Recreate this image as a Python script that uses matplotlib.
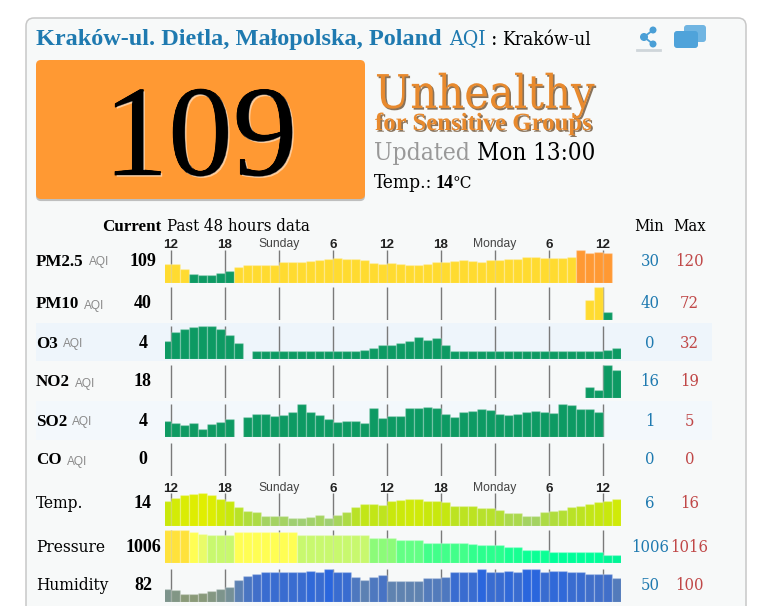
import numpy as np
import matplotlib
matplotlib.use('Agg')
import matplotlib.pyplot as plt
import matplotlib.patheffects as pe
from matplotlib.colors import LinearSegmentedColormap, Normalize
from matplotlib.patches import FancyBboxPatch, Rectangle, Circle

W, H = 760, 606
n = np.nan

tick_hours = [0, 6, 12, 18, 24, 30, 36, 42, 48]
tick_labels = ['12', '18', 'Sunday', '6', '12', '18', 'Monday', '6', '12']

pm25 = [70, 69, 51, 31, 30, 30, 35, 45, 58, 66, 67, 66, 67, 77, 77, 77, 81, 85, 87, 90, 87, 87, 85, 71, 70, 72,
        69, 66, 66, 70, 75, 76, 80, 84, 79, 77, 85, 82, 89, 86, 95, 95, 92, 91, 92, 95, 120, 110, 114, 109, n]
pm10 = [n] * 47 + [55, 72, 40, n]
o3 = [12, 24, 28, 31, 32, 32, 28, 20, 10, n] + [0] * 12 + [1, 4, 8, 8, 10, 13, 18, 14, 16, 7] + [0] * 17 + [1, 4]
no2 = [n] * 47 + [16.3, 16, 19, 18.4]
so2 = [2.24, 1.97, 1.65, 1.86, 1.0, 1.76, 2.13, 2.62, n, 2.94, 3.43, 3.43, 3.05, 3.16, 3.7, 4.94, 3.75, 3.21, 2.57,
       2.08, 2.3, 2.3, 1.97, 4.29, 2.67, 3.05, 3.0, 4.29, 4.4, 4.56, 4.29, 3.43, 2.94, 3.7, 3.86, 4.19, 4.02, 3.32,
       3.16, 3.32, 3.75, 3.92, 3.65, 3.48, 5.0, 4.78, 4.24, 4.13, 3.75, n, n]
co = [n] * 51
temp = [12.9, 14.1, 15.0, 15.5, 15.8, 15.2, 13.7, 12.6, 10.2, 8.7, 8.3, 6.8, 6.8, 6.8, 6, 6, 6.4, 6.9, 6, 7.2, 8.3,
        10.2, 11.7, 11.7, 11, 12.6, 13.0, 13.6, 13.6, 12.6, 12.6, 12.2, 10.7, 10.7, 10.7, 9.8, 9.8, 9.2, 7.9, 7.9,
        6.8, 6.8, 8.3, 8.7, 9.2, 10.2, 10.7, 11.7, 12.2, 12.6, 13.7]
pressure = [1015.9, 1015.9, 1015.9, 1015, 1014.4, 1014, 1014, 1014, 1015, 1015, 1015, 1015, 1015, 1015, 1015, 1014,
            1014, 1014, 1014, 1014, 1014, 1014, 1014, 1012.9, 1012.9, 1012.9, 1011.9, 1011.9, 1011.9, 1010.9,
            1010.9, 1010.9, 1010.9, 1010.9, 1010.2, 1009.9, 1009.9, 1009.9, 1009, 1009, 1008, 1008, 1008, 1006.9,
            1006.9, 1006.9, 1006.9, 1006.9, 1006.9, 1006, 1006]
humidity = [60.8, 57.4, 50, 50, 51.4, 55.4, 60.8, 64.9, 79, 87, 90.5, 93.9, 93.9, 93.9, 93.9, 93.9, 97.3, 93.9, 100,
            93.9, 93.9, 85, 79, 85, 87.8, 77, 77, 77, 77, 83, 83, 85, 93.9, 93.9, 93.9, 100, 93.9, 93.9, 97.3, 93.9,
            100, 100, 93.9, 97.3, 97.3, 93.9, 93.9, 90.5, 90.5, 90.5, 83]

row_names = ['PM2.5', 'PM10', 'O3', 'NO2', 'SO2', 'CO', 'Temp.', 'Pressure', 'Humidity']
row_current = [109, 40, 4, 18, 4, 0, 14, 1006, 82]
row_min = [30, 40, 0, 16, 1, 0, 6, 1006, 50]
row_max = [120, 72, 32, 19, 5, 0, 16, 1016, 100]
row_values = [pm25, pm10, o3, no2, so2, co, temp, pressure, humidity]

# ---- layout (pixels) ----
row_base = [282.7, 320, 358.7, 397.7, 436.7, 476, 525.7, 562.7, 602]
row_text = [260, 303, 342, 381, 420, 459, 503, 546, 585]
PLOT_H = 32.7
MIN_H = 8.0
X0, X1 = 165.0, 621.0
SERIF = ['DejaVu Serif']
LIB = ['Liberation Serif']

GREEN, YELLOW, ORANGE = '#0d9a63', '#ffdb30', '#ff9933'
temp_cmap = LinearSegmentedColormap.from_list('t', ['#9fcf72', '#b4e030', '#c8e80c', '#e2ee00'])
pres_cmap = LinearSegmentedColormap.from_list('p', [
    (0.0, '#00f596'), (0.1, '#00ff99'), (0.3, '#18ff92'), (0.5, '#44ff8a'), (0.6, '#66ff85'), (0.7, '#90fb78'),
    (0.8, '#c8f86e'), (0.84, '#e8fb6a'), (0.9, '#ffff55'), (1.0, '#ffe03a')])
hum_cmap = LinearSegmentedColormap.from_list('h', ['#8a9a78', '#7f958a', '#6a8aa5', '#5a80b5', '#4270c8', '#2a66dd'])


def aqi_colour(v):
    return GREEN if v <= 50 else YELLOW if v <= 100 else ORANGE


def colours(i, vals):
    lo, hi = row_min[i], row_max[i]
    if i in (0, 1):
        return [aqi_colour(v) if v == v else 'none' for v in vals]
    if i in (2, 3, 4, 5):
        return [GREEN] * len(vals)
    cmap = {6: temp_cmap, 7: pres_cmap, 8: hum_cmap}[i]
    norm = Normalize(lo, hi)
    return [cmap(norm(v)) if v == v else 'none' for v in vals]


fig = plt.figure(figsize=(W / 100, H / 100), dpi=100, facecolor='white')
bg = fig.add_axes([0, 0, 1, 1])
bg.set_xlim(0, W)
bg.set_ylim(H, 0)
bg.axis('off')


def T(x, y, s, size, color='black', ha='left', va='baseline', weight='normal', family=None, **kw):
    fam = family or SERIF
    return bg.text(x, y, s, fontsize=size * 0.72, color=color, ha=ha, va=va, weight=weight, family=fam,
                   stretch='condensed', **kw)


def B(x, y, s, size, color='black', ha='left', **kw):
    return T(x, y, s, size, color, ha=ha, weight='bold', family=LIB, **kw)


# card
bg.add_patch(FancyBboxPatch((26, 18), 720, 640, boxstyle='round,pad=0,rounding_size=8', fc='#f7f9f9', ec='#c8c8c8', lw=1.1))
bg.add_patch(Rectangle((36, 323), 676, 38, fc='#eef5fb', ec='none'))
bg.add_patch(Rectangle((36, 401), 676, 39, fc='#f3f8fc', ec='none'))

# header
BLUE = '#1f7ab0'
B(36, 45, 'Kraków-ul. Dietla, Małopolska, Poland', 24.3, BLUE)
T(449, 45, 'AQI', 21, BLUE)
T(491, 45, ':', 21, 'black')
T(502, 45, 'Kraków-ul', 19, 'black')

# icons
for cx, cy, r in [(653, 30, 3.5), (644, 37, 4), (653, 44, 3.5)]:
    bg.add_patch(Circle((cx, cy), r, fc='#4a9fd6', ec='none'))
bg.plot([653, 644, 653], [30, 37, 44], color='#4a9fd6', lw=1.3)
bg.plot([637, 660], [49.5, 49.5], color='#cfd6da', lw=2)
bg.add_patch(FancyBboxPatch((684, 25), 22, 17, boxstyle='round,pad=0,rounding_size=3', fc='#70b5e2', ec='none'))
bg.add_patch(FancyBboxPatch((674, 31), 24, 17, boxstyle='round,pad=0,rounding_size=3', fc='#4fa3da', ec='none'))

# big box
bg.add_patch(FancyBboxPatch((36, 60), 329, 139, boxstyle='round,pad=0,rounding_size=5', fc=ORANGE, ec='none',
                            path_effects=[pe.withSimplePatchShadow(offset=(0, -1.5), shadow_rgbFace='#999999', alpha=0.6)]))
bg.text(200.5, 175, '109', fontsize=93, family='Liberation Serif', ha='center', va='baseline', color='black',
        path_effects=[pe.withStroke(linewidth=0.6, foreground='black'),
                      pe.withSimplePatchShadow(offset=(1.2, -1.2), shadow_rgbFace='#ffffff', alpha=0.5)])
sh = [pe.withSimplePatchShadow(offset=(1.2, -1.2), shadow_rgbFace='#5a3a18', alpha=0.7)]
T(375, 108, 'Unhealthy', 46.5, '#e88a2e', path_effects=sh)
B(375, 130, 'for Sensitive Groups', 24.8, '#e88a2e', path_effects=sh)
T(374, 160, 'Updated', 24.5, '#999999')
T(477, 160, 'Mon 13:00', 24, 'black')
T(374, 188, 'Temp.:', 19, 'black')
B(436, 188, '14', 18, 'black')
T(453, 188, '°C', 17, 'black')

# table header
B(102, 231, 'Current', 17, 'black')
T(167, 231, 'Past 48 hours data', 16.7, 'black')
T(634, 231, 'Min', 16.5, 'black')
T(673, 231, 'Max', 16.5, 'black')


def row_axes(i):
    ax = fig.add_axes([X0 / W, 1 - row_base[i] / H, (X1 - X0) / W, PLOT_H / H])
    ax.patch.set_alpha(0)
    ax.set_xlim(-6 / 9, 50)
    lo, hi = row_min[i], row_max[i]
    if hi > lo:
        ax.set_ylim(lo - MIN_H / (PLOT_H - MIN_H) * (hi - lo), hi)
    else:
        ax.set_ylim(0, 1)
    ax.set_xticks([])
    ax.set_yticks([])
    for s in ax.spines.values():
        s.set_visible(False)
    return ax


for i, vals in enumerate(row_values):
    ax = row_axes(i)
    bottom = ax.get_ylim()[0]
    ax.vlines(tick_hours, bottom, ax.get_ylim()[1], color='#7a7a7a', lw=1.0, zorder=1)
    x = np.arange(len(vals)) - 0.5
    v = np.array(vals, dtype=float)
    ax.bar(x, v - bottom, bottom=bottom, width=1.0, color=colours(i, v), edgecolor=(1, 1, 1, 0.2), linewidth=1.0,
           zorder=2)

    # left labels and right values
    name = row_names[i]
    y = row_text[i] + 5.5
    if i <= 5:
        t = B(36, y, name, 17, 'black')
        bb = t.get_window_extent(fig.canvas.get_renderer())
        bg.text(bb.x1 + 5, y, 'AQI', fontsize=8.6, color='#8a8a8a', family='Liberation Sans', va='baseline')
    else:
        T(36, y, name, 17.2, 'black')
    B(143, y, str(row_current[i]), 18, 'black', ha='center')
    T(650, y, str(row_min[i]), 16.5, BLUE, ha='center')
    T(689.5, y, str(row_max[i]), 16.5, '#c04848', ha='center')

# hour labels above PM2.5 and Temp rows
for yy in (243, 487):
    for hour, lab in zip(tick_hours, tick_labels):
        px = X0 + (hour + 6 / 9) * 9
        named = lab.endswith('day')
        bg.text(px, yy + 4.5, lab, fontsize=8.7 if named else 9.6, family='Liberation Sans', ha='center', va='baseline',
                color='#444444' if named else '#222222', weight='normal' if named else 'bold')

fig.savefig('out.png', dpi=100, facecolor='white')
